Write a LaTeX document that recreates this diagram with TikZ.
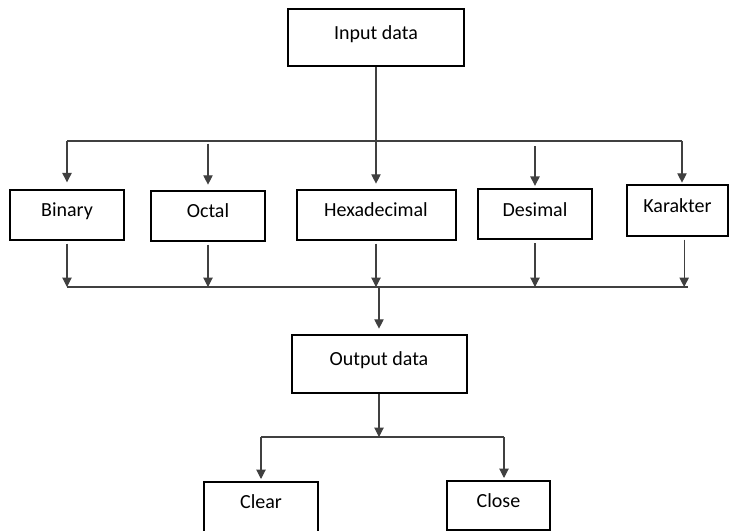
\documentclass[tikz,border=0pt]{standalone}
\usepackage{fontspec}
\setmainfont{Carlito}
\usepackage{tikz}
\usetikzlibrary{arrows.meta,positioning,calc}

\begin{document}
\begin{tikzpicture}[
    x=0.75pt, y=-0.75pt,
    font=\fontsize{15}{18}\selectfont,
    box/.style={draw, line width=1.5pt, minimum width=85.5pt, minimum height=37.5pt, text height=0.75em, text depth=0.5em},
    link/.style={draw=black!75, line width=0.8pt},
    arr/.style={link, -{Triangle[length=7pt, width=7pt]}}
]
\useasboundingbox (0,0) rectangle (729,531);
\node[box, minimum width=132pt, minimum height=42.75pt] (input) at (376,37.5) {Input data};
\node[box] (binary) at (67,215) {Binary};
\node[box] (octal) at (208,216) {Octal};
\node[box, minimum width=119.25pt] (hexa) at (376,215) {Hexadecimal};
\node[box] (desimal) at (535,214.5) {Desimal};
\node[box, minimum width=75.75pt, minimum height=38.25pt] (karakter) at (677.5,210.5) {Karakter};
\node[box, minimum width=131.25pt, minimum height=43.5pt] (output) at (379,364) {Output data};
\node[box] (clear) at (261,507) {Clear};
\node[box, minimum width=77.25pt, minimum height=36.75pt] (close) at (498.5,505.5) {Close};

\coordinate (topL) at (67,141);
\coordinate (topR) at (682,141);
\coordinate (botL) at (67,287);
\coordinate (botR) at (688,287);
\coordinate (splitL) at (261,437);
\coordinate (splitR) at (504,437);

\draw[link] (topL) -- (topR);
\draw[arr, shorten >=5pt] (topL) -- (binary.north);
\draw[arr, shorten >=4pt, shorten <=2pt] (octal.north |- topL) -- (octal.north);
\draw[arr, shorten >=4pt] (input.south) -- (hexa.north);
\draw[arr, shorten >=2pt, shorten <=4pt] (desimal.north |- topL) -- (desimal.north);
\draw[arr, shorten >=1pt] (topR) -- (topR |- karakter.north);

\draw[arr, shorten <=2pt] (binary.south) -- (botL);
\draw[arr, shorten <=2pt] (octal.south) -- (octal.south |- botL);
\draw[arr, shorten <=2pt] (hexa.south) -- (hexa.south |- botL);
\draw[arr, shorten <=2pt] (desimal.south) -- (desimal.south |- botL);
\draw[arr, shorten <=2pt] ([xshift=5pt]karakter.south) -- ([xshift=5pt]karakter.south |- botR);
\draw[link] (botL) -- (botR);

\draw[arr, shorten >=4pt] (output.north |- botL) -- (output.north);
\draw[arr] (output.south) -- (output.south |- splitL);
\draw[link] (splitL) -- (splitR);
\draw[arr, shorten >=1.5pt] (splitL) -- (clear.north);
\draw[arr, shorten >=1.5pt] (splitR) -- (splitR |- close.north);
\end{tikzpicture}
\end{document}
